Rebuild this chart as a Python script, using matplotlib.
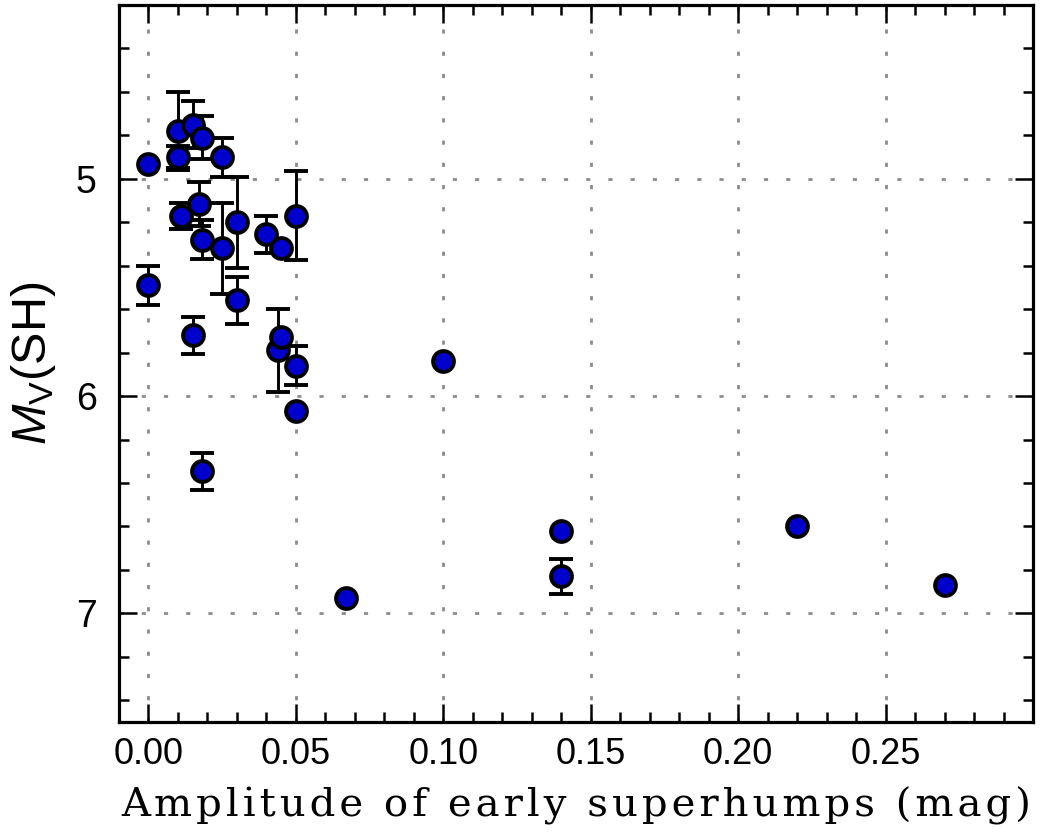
import numpy as np
import matplotlib.pyplot as plt
from matplotlib import font_manager
from matplotlib.ticker import MultipleLocator

# amplitude of early superhumps (mag), M_V(SH), error (0 = none drawn)
amp = [0.000, 0.000, 0.010, 0.010, 0.015, 0.018, 0.025, 0.011, 0.017, 0.018,
       0.025, 0.030, 0.030, 0.040, 0.045, 0.050, 0.015, 0.044, 0.045, 0.050,
       0.050, 0.018, 0.100, 0.140, 0.140, 0.220, 0.270, 0.067]
mv = [4.93, 5.49, 4.90, 4.78, 4.75, 4.81, 4.90, 5.17, 5.115, 5.28,
      5.32, 5.20, 5.56, 5.255, 5.32, 5.17, 5.72, 5.79, 5.73, 5.86,
      6.07, 6.345, 5.84, 6.62, 6.83, 6.60, 6.87, 6.93]
mv_err = [0.0, 0.09, 0.05, 0.18, 0.11, 0.10, 0.09, 0.06, 0.10, 0.09,
          0.21, 0.21, 0.11, 0.085, 0.0, 0.205, 0.085, 0.19, 0.0, 0.09,
          0.0, 0.085, 0.0, 0.0, 0.08, 0.0, 0.0, 0.0]

names = {f.name for f in font_manager.fontManager.ttflist}
narrow = 'Liberation Sans Narrow' if 'Liberation Sans Narrow' in names else 'Liberation Sans'

plt.rcParams['mathtext.fontset'] = 'custom'
plt.rcParams['mathtext.it'] = 'Liberation Sans:italic'
plt.rcParams['mathtext.rm'] = 'Liberation Sans'

fig = plt.figure(figsize=(10.42, 8.36), dpi=100)
ax = fig.add_axes([0.1142, 0.1364, 0.8772, 0.8576])

for x, y, e in zip(amp, mv, mv_err):
    ax.errorbar(x, y, yerr=e if e > 0 else None, fmt='o', ms=15,
                mfc='#0000cc', mec='black', mew=2.8, ecolor='black',
                elinewidth=2.1, capsize=8.3, capthick=2.1, zorder=3)

ax.set_xlim(-0.01, 0.30)
ax.set_ylim(7.5, 4.2)
ax.xaxis.set_major_locator(MultipleLocator(0.05))
ax.xaxis.set_minor_locator(MultipleLocator(0.01))
ax.yaxis.set_major_locator(MultipleLocator(1))
ax.yaxis.set_minor_locator(MultipleLocator(0.2))
ax.set_xticks([0.0, 0.05, 0.10, 0.15, 0.20, 0.25])
ax.set_xticklabels(['0.00', '0.05', '0.10', '0.15', '0.20', '0.25'],
                   family=narrow, fontsize=26)
ax.set_yticks([5, 6, 7])
ax.set_yticklabels(['5', '6', '7'], family='Liberation Sans', fontsize=27)

ax.tick_params(which='both', direction='in', top=True, right=True, width=1.8)
ax.tick_params(axis='x', which='major', length=13, pad=11)
ax.tick_params(axis='y', which='major', length=13, pad=16)
ax.tick_params(which='minor', length=7)
for s in ax.spines.values():
    s.set_linewidth(2.3)

ax.grid(True, which='major', color='#8c8c8c', lw=2, ls=(0, (1.5, 6.5)), zorder=0)

# letter-spaced serif label, as in the original
xlabel = 'Amplitude of early superhumps (mag)'
spaced = '\u200a'.join(xlabel)
ax.set_xlabel(spaced, family='DejaVu Serif', fontsize=29, labelpad=10)
ax.set_ylabel(r'$M_{\rm V}$(SH)', family='Liberation Sans', fontsize=35, labelpad=13)

fig.savefig('out.png', dpi=100)
